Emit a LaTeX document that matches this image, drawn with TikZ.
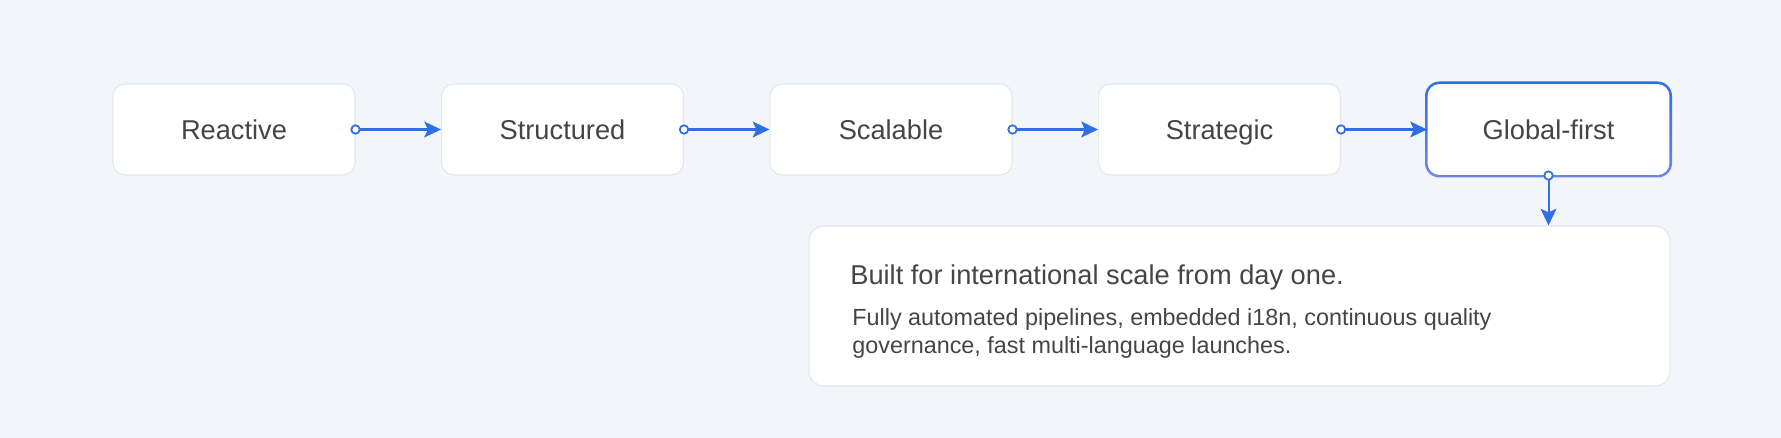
\documentclass[tikz,border=0pt]{standalone}
\usepackage{fontspec}
\setmainfont{Liberation Sans}
\usetikzlibrary{arrows.meta}

\definecolor{bgcol}{HTML}{F2F5F9}
\definecolor{edgecol}{HTML}{E3E6EA}
\definecolor{inkcol}{HTML}{454545}
\definecolor{linkcol}{HTML}{2F6FE3}
\definecolor{gtop}{HTML}{2F6FE3}
\definecolor{gbot}{HTML}{6E84E6}

\tikzset{
	stage/.style={draw=edgecol, line width=0.6pt, fill=white, rounded corners=0.24cm,
		minimum width=4.84cm, minimum height=1.82cm, text=inkcol,
		text height=11.1pt, text depth=0pt,
		font=\fontsize{15.5}{18}\selectfont},
	note/.style={draw=edgecol, line width=0.6pt, fill=white, rounded corners=0.3cm,
		minimum width=17.22cm, minimum height=3.2cm},
	link/.style={draw=linkcol, line width=1.15pt, -{Stealth[length=9.5pt, width=9pt, inset=2pt]}},
	dot/.style={circle, draw=linkcol, line width=1pt, fill=white, inner sep=0pt, minimum size=4.8pt},
	caption/.style={anchor=base west, inner sep=0pt, text=inkcol},
}

\begin{document}
\begin{tikzpicture}[x=0.02cm, y=-0.02cm]
				%%%%% START %%%%%
				
				\fill[bgcol] (0, 0) rectangle (1781, 438);
				
				\node[stage] (reactive) at (234, 129.5) {Reactive};
				\node[stage] (structured) at (562.5, 129.5) {Structured};
				\node[stage] (scalable) at (891, 129.5) {Scalable};
				\node[stage] (strategic) at (1219.5, 129.5) {Strategic};
				
				\shade[top color=gtop, bottom color=gbot, rounded corners=0.29cm] (1425, 81.5) rectangle (1672, 177.5);
				\node[stage, draw=none] (global) at (1548.5, 129.5) {Global-first};
				
				\node[note] (detail) at (1239.5, 306) {};
				\node[caption, font=\fontsize{15.5}{18}\selectfont] (headline) at (850, 285) {Built for international scale from day one.};
				\node[caption, font=\fontsize{13.3}{15.9}\selectfont] (blurb) at (852, 326) {Fully automated pipelines, embedded i18n, continuous quality};
				\node[caption, font=\fontsize{13.3}{15.9}\selectfont] (blurbtwo) at (852, 354) {governance, fast multi-language launches.};
				
				\draw[link] (reactive.east) -- (structured.west);
				\draw[link] (structured.east) -- (scalable.west);
				\draw[link] (scalable.east) -- (strategic.west);
				\draw[link] (strategic.east) -- (global.west);
				\draw[link] (global.south) -- (global.south |- detail.north);
				
				\foreach \s in {reactive, structured, scalable, strategic}
					\node[dot] at (\s.east) {};
				\node[dot] at (global.south) {};
				
				%%%%% END %%%%%
\end{tikzpicture}
\end{document}
